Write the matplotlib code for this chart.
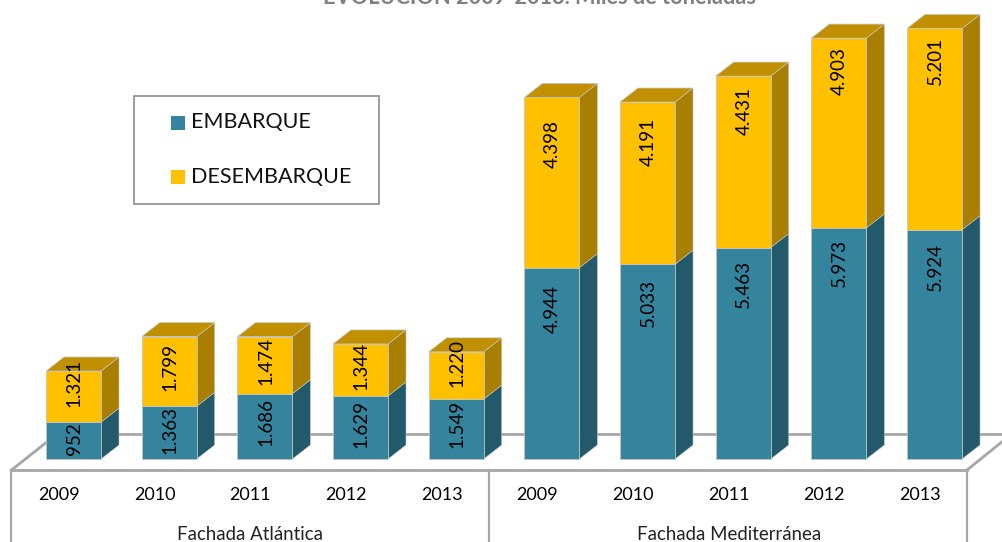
import matplotlib
matplotlib.use('Agg')
import matplotlib.pyplot as plt
from matplotlib.patches import Polygon, Rectangle

plt.rcParams['font.family'] = ['Lato', 'DejaVu Sans']

years = ['2009', '2010', '2011', '2012', '2013', '2009', '2010', '2011', '2012', '2013']
groups = ['Fachada Atlántica', 'Fachada Mediterránea']
embarque = [952, 1363, 1686, 1629, 1549, 4944, 5033, 5463, 5973, 5924]
desembarque = [1321, 1799, 1474, 1344, 1220, 4398, 4191, 4431, 4903, 5201]
series_names = ['EMBARQUE', 'DESEMBARQUE']
title = 'EVOLUCIÓN 2009-2013. Miles de toneladas'

# label nudges upward in pixels (the labels are not centred in the original)
emb_nudge = [2, 3, 4, 3, 5.5, 54, 59, 69, 80.5, 77]
des_nudge = [14, 4, 4, 4, 12, 38.5, 41, 51, 62, 68]

W, H = 1003, 542
SPACING = 95.67      # px per category
X0 = 73.5            # px of first bar centre
BASE = 459           # px of value 0
SCALE = 0.0387       # px per unit
BAR_W = 55 / SPACING
DX = 18 / SPACING
DY = 14 / SCALE

TEAL = '#35849E'
TEAL_SIDE = '#225A6C'
YEL = '#FFC000'
YEL_SIDE = '#A87F00'
YEL_TOP = '#C09000'
EDGE = '#C4C4C4'
LINE = '#A6A6A6'


def fmt(v):
    return f'{v:,}'.replace(',', '.')


fig = plt.figure(figsize=(W / 100, H / 100), dpi=100)

# pixel axes for the floor, the table lines and the legend box
bg = fig.add_axes([0, 0, 1, 1])
bg.set_xlim(0, W)
bg.set_ylim(H, 0)
bg.axis('off')
bg.plot([57, 1003], [434, 434], color=LINE, lw=2)
bg.plot([11.5, 57], [470, 434], color=LINE, lw=2)
bg.plot([967, 1003], [470, 441], color=LINE, lw=2)
bg.plot([11.5, 967], [470, 470], color=LINE, lw=2)
for x in [11.5, 489, 967]:
    bg.plot([x, x], [470, H], color=LINE, lw=1.6)

# data axes
ax = fig.add_axes([0, 0, 1, 1])
ax.set_xlim(-X0 / SPACING, (W - X0) / SPACING)
ax.set_ylim(-(H - BASE) / SCALE, BASE / SCALE)
ax.axis('off')
ax.patch.set_alpha(0)

xs = list(range(len(years)))
ax.bar(xs, embarque, width=BAR_W, color=TEAL, edgecolor=EDGE, linewidth=0.6, zorder=3)
ax.bar(xs, desembarque, width=BAR_W, bottom=embarque, color=YEL, edgecolor=EDGE, linewidth=0.6, zorder=3)

for i in xs:
    right = i + BAR_W / 2
    left = i - BAR_W / 2
    e = embarque[i]
    top = e + desembarque[i]
    ax.add_patch(Polygon([(right, 0), (right + DX, DY), (right + DX, e + DY), (right, e)],
                         closed=True, fc=TEAL_SIDE, ec=EDGE, lw=0.4, zorder=2))
    ax.add_patch(Polygon([(right, e), (right + DX, e + DY), (right + DX, top + DY), (right, top)],
                         closed=True, fc=YEL_SIDE, ec=EDGE, lw=0.4, zorder=2))
    ax.add_patch(Polygon([(left, top), (left + DX, top + DY), (right + DX, top + DY), (right, top)],
                         closed=True, fc=YEL_TOP, ec=EDGE, lw=0.5, zorder=2))
    ax.annotate(fmt(e), (i, e / 2), xytext=(0.5, emb_nudge[i] * 0.72), textcoords='offset points',
                rotation=90, ha='center', va='center', fontsize=13.5, color='black', zorder=5)
    ax.annotate(fmt(desembarque[i]), (i, e + desembarque[i] / 2), xytext=(0.5, des_nudge[i] * 0.72),
                textcoords='offset points', rotation=90, ha='center', va='center',
                fontsize=13.5, color='black', zorder=5)
    ax.text(i - 14.5 / SPACING, -36 / SCALE, years[i], ha='center', va='center', fontsize=13, color='black')

ax.text(2 - 14.5 / SPACING, -75.5 / SCALE, groups[0], ha='center', va='center', fontsize=13.4, color='#222222')
ax.text(7 - 14.5 / SPACING, -75.5 / SCALE, groups[1], ha='center', va='center', fontsize=13.4, color='#222222')

# legend and title on a top pixel axes
top_ax = fig.add_axes([0, 0, 1, 1])
top_ax.set_xlim(0, W)
top_ax.set_ylim(H, 0)
top_ax.axis('off')
top_ax.patch.set_alpha(0)
top_ax.add_patch(Rectangle((134, 96), 245, 108, fc='white', ec='#8C8C8C', lw=1.2))
top_ax.add_patch(Rectangle((171, 115.5), 14, 14, fc=TEAL, ec='none'))
top_ax.add_patch(Rectangle((171, 170), 14, 14, fc=YEL, ec='none'))
top_ax.text(191.5, 122, series_names[0], va='center', ha='left', fontsize=15.5, color='#111111')
top_ax.text(191.5, 176.5, series_names[1], va='center', ha='left', fontsize=15.5, color='#111111')
top_ax.text(540, 4, title, ha='center', va='baseline', fontsize=15.7, fontweight='bold', color='#808080')

plt.savefig('out.png', dpi=100)
